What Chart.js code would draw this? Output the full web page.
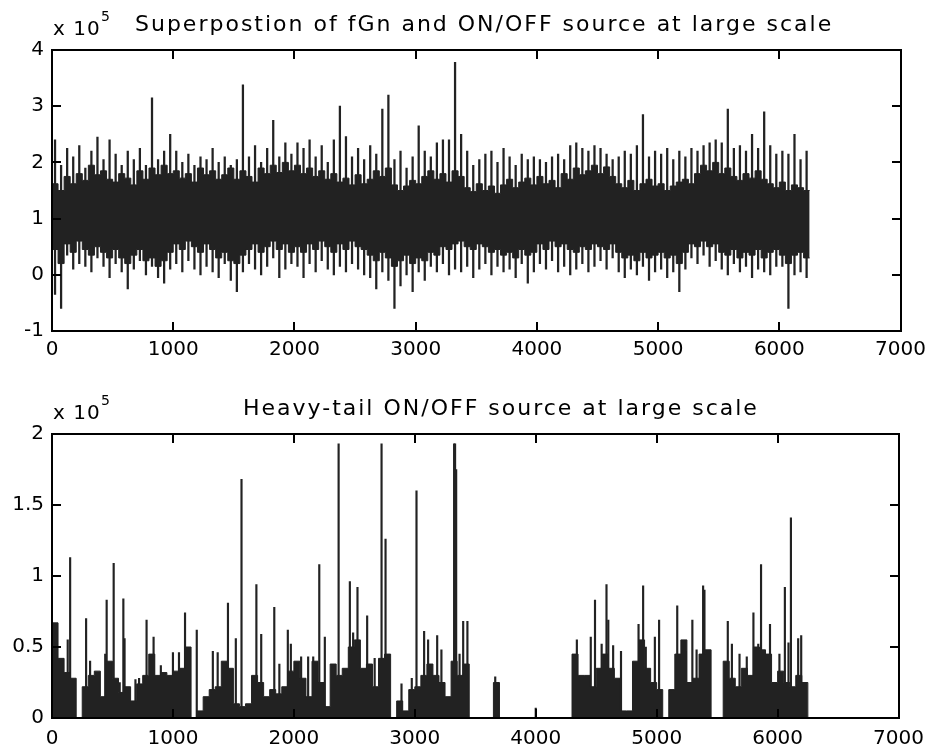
<!DOCTYPE html>
<html>
<head>
<meta charset="utf-8">
<script src="https://cdn.jsdelivr.net/npm/chart.js@4"></script>
<style>
  html, body { margin: 0; padding: 0; background: #fff; }
  #wrap { position: relative; width: 933px; height: 753px; }
  canvas { position: absolute; left: 0; }
  #top { top: 0; }
  #bottom { top: 375px; }
</style>
</head>
<body>
<div id="wrap">
  <canvas id="top" width="933" height="375"></canvas>
  <canvas id="bottom" width="933" height="378"></canvas>
</div>
<script>
// values are in units of 1e5 (the "x 10^5" on each axis)
const BIN = 50;   // samples per bin

// top panel: extreme max / min per bin
const topHi = [
  2.40, 1.95, 2.25, 2.10, 2.30, 1.90, 2.20, 2.45, 2.05, 2.40,
  2.15, 1.95, 2.20, 2.05, 2.25, 1.95, 3.15, 2.05, 2.20, 2.50,
  2.20, 2.00, 2.15, 1.95, 2.10, 2.05, 2.25, 2.00, 2.10, 1.95,
  2.05, 3.38, 2.10, 2.30, 2.00, 2.25, 2.75, 2.10, 2.35, 2.15,
  2.35, 2.25, 2.40, 2.10, 2.30, 2.00, 2.40, 3.00, 2.46, 2.10,
  2.25, 2.05, 2.30, 2.15, 2.95, 3.20, 2.05, 2.20, 1.90, 2.10,
  2.65, 2.20, 2.10, 2.35, 2.40, 2.40, 3.78, 2.50, 2.20, 1.95,
  2.05, 2.15, 2.20, 2.00, 2.25, 2.10, 1.95, 2.15, 2.05, 2.10,
  2.05, 2.00, 2.10, 2.15, 2.05, 2.30, 2.35, 2.25, 2.20, 2.30,
  2.25, 2.15, 2.05, 2.10, 2.20, 2.15, 2.30, 2.85, 2.10, 2.20,
  2.15, 2.25, 2.05, 2.20, 2.10, 2.25, 2.20, 2.30, 2.35, 2.40,
  2.35, 2.95, 2.25, 2.30, 2.20, 2.50, 2.25, 2.90, 2.30, 2.15,
  2.20, 2.15, 2.50, 2.05, 2.20
];
const topLo = [
  -0.35, -0.60, 0.35, 0.10, 0.20, 0.15, 0.05, 0.30, 0.15, -0.05,
  0.20, 0.05, -0.25, 0.10, 0.25, 0.00, 0.15, -0.05, -0.15, 0.10,
  0.20, 0.05, 0.25, 0.10, 0.00, 0.15, 0.05, -0.05, 0.20, -0.10,
  -0.30, 0.05, 0.20, 0.10, 0.00, 0.15, 0.30, -0.05, 0.10, 0.20,
  0.15, -0.05, 0.20, 0.05, 0.25, 0.10, 0.00, 0.15, 0.05, 0.20,
  0.10, 0.00, -0.05, -0.25, 0.05, -0.10, -0.60, -0.20, 0.00, -0.30,
  0.05, -0.10, 0.15, 0.05, 0.20, 0.00, 0.10, 0.05, 0.15, -0.05,
  0.10, 0.20, 0.00, 0.15, 0.05, 0.10, -0.05, 0.20, -0.15, 0.05,
  0.20, 0.10, 0.25, 0.05, 0.15, 0.00, 0.10, 0.20, 0.05, 0.15,
  0.25, 0.10, 0.30, 0.05, -0.05, 0.10, 0.00, 0.15, -0.10, 0.05,
  0.10, -0.05, 0.05, -0.30, 0.10, 0.30, 0.20, 0.35, 0.15, 0.25,
  0.10, 0.00, 0.20, 0.05, 0.15, -0.05, 0.10, 0.05, 0.00, 0.15,
  0.15, -0.60, 0.00, 0.05, -0.05
];
// top panel: edges of the solid black core per bin
const coreHi = [
  1.62, 1.50, 1.75, 1.62, 1.80, 1.68, 1.95, 1.78, 1.85, 1.70,
  1.65, 1.80, 1.72, 1.60, 1.85, 1.70, 1.90, 1.78, 1.95, 1.80,
  1.85, 1.72, 1.80, 1.65, 1.90, 1.78, 1.85, 1.70, 1.78, 1.90,
  1.70, 1.85, 1.75, 1.65, 1.90, 1.80, 1.95, 1.82, 2.00, 1.85,
  1.95, 1.80, 1.90, 1.75, 1.85, 1.70, 1.80, 1.65, 1.72, 1.60,
  1.78, 1.62, 1.70, 1.85, 1.75, 1.90, 1.60, 1.50, 1.58, 1.68,
  1.62, 1.75, 1.85, 1.70, 1.80, 1.65, 1.85, 1.75, 1.55, 1.48,
  1.62, 1.50, 1.58, 1.45, 1.60, 1.70, 1.55, 1.65, 1.72, 1.60,
  1.75, 1.62, 1.68, 1.55, 1.80, 1.70, 1.90, 1.78, 1.85, 1.95,
  1.80, 1.92, 1.75, 1.62, 1.55, 1.68, 1.50, 1.62, 1.70, 1.58,
  1.62, 1.50, 1.58, 1.65, 1.70, 1.62, 1.80, 1.95, 1.85, 2.00,
  1.80, 1.90, 1.75, 1.68, 1.80, 1.72, 1.85, 1.70, 1.62, 1.55,
  1.65, 1.50, 1.60, 1.55, 1.50
];
const coreLo = [
  0.45, 0.20, 0.55, 0.40, 0.60, 0.45, 0.35, 0.50, 0.40, 0.30,
  0.45, 0.30, 0.20, 0.35, 0.45, 0.25, 0.30, 0.15, 0.25, 0.40,
  0.55, 0.45, 0.60, 0.50, 0.40, 0.55, 0.45, 0.30, 0.40, 0.25,
  0.20, 0.35, 0.45, 0.55, 0.40, 0.50, 0.60, 0.45, 0.55, 0.40,
  0.50, 0.40, 0.55, 0.45, 0.60, 0.50, 0.40, 0.55, 0.45, 0.60,
  0.50, 0.45, 0.35, 0.25, 0.40, 0.30, 0.15, 0.25, 0.35, 0.20,
  0.30, 0.25, 0.40, 0.35, 0.50, 0.45, 0.55, 0.60, 0.50, 0.45,
  0.55, 0.50, 0.40, 0.45, 0.35, 0.40, 0.30, 0.45, 0.35, 0.40,
  0.55, 0.45, 0.60, 0.50, 0.55, 0.45, 0.40, 0.50, 0.45, 0.55,
  0.50, 0.45, 0.55, 0.40, 0.30, 0.35, 0.25, 0.40, 0.30, 0.35,
  0.40, 0.30, 0.35, 0.20, 0.40, 0.55, 0.50, 0.60, 0.50, 0.55,
  0.40, 0.35, 0.45, 0.30, 0.40, 0.35, 0.45, 0.30, 0.40, 0.45,
  0.35, 0.20, 0.35, 0.40, 0.30
];

// bottom panel: ON level per bin (0 = OFF) and single-sample spikes
const onLevel = [
  0.67, 0.42, 0.32, 0.28, 0.00, 0.22, 0.30, 0.33, 0.15, 0.40,
  0.28, 0.18, 0.22, 0.12, 0.24, 0.30, 0.45, 0.30, 0.32, 0.30,
  0.33, 0.35, 0.50, 0.00, 0.05, 0.15, 0.20, 0.22, 0.40, 0.35,
  0.10, 0.08, 0.10, 0.30, 0.25, 0.15, 0.20, 0.17, 0.22, 0.33,
  0.40, 0.28, 0.15, 0.40, 0.25, 0.08, 0.38, 0.30, 0.35, 0.50,
  0.55, 0.35, 0.38, 0.22, 0.42, 0.45, 0.00, 0.12, 0.05, 0.20,
  0.22, 0.30, 0.38, 0.30, 0.25, 0.15, 0.40, 0.30, 0.38, 0.00,
  0.00, 0.00, 0.00, 0.25, 0.00, 0.00, 0.00, 0.00, 0.00, 0.00,
  0.00, 0.00, 0.00, 0.00, 0.00, 0.00, 0.45, 0.30, 0.30, 0.22,
  0.35, 0.45, 0.35, 0.28, 0.05, 0.05, 0.40, 0.55, 0.35, 0.25,
  0.20, 0.00, 0.20, 0.45, 0.55, 0.25, 0.28, 0.45, 0.48, 0.00,
  0.00, 0.40, 0.28, 0.22, 0.35, 0.30, 0.50, 0.48, 0.45, 0.25,
  0.33, 0.25, 0.22, 0.30, 0.25
];
const spikeX = [
  130, 150, 282, 315, 440, 452, 510, 560, 590, 600,
  690, 720, 782, 840, 900, 1000, 1050, 1100, 1197, 1330,
  1370, 1455, 1520, 1567, 1690, 1730, 1838, 1880, 1950, 1975,
  2060, 2118, 2160, 2210, 2256, 2370, 2463, 2490, 2526, 2606,
  2668, 2725, 2758, 2890, 2975, 3014, 3077, 3110, 3185, 3220,
  3325, 3333, 3342, 3370, 3400, 3435, 3665, 4000, 4340, 4455,
  4490, 4545, 4585, 4600, 4640, 4705, 4850, 4888, 4910, 4985,
  5020, 5170, 5240, 5295, 5330, 5384, 5395, 5588, 5622, 5685,
  5745, 5800, 5840, 5863, 5937, 6015, 6060, 6090, 6110, 6170,
  6195
];
const spikeH = [
  0.55, 1.13, 0.70, 0.40, 0.45, 0.83, 1.09, 0.25, 0.84, 0.56,
  0.27, 0.28, 0.69, 0.57, 0.37, 0.46, 0.46, 0.74, 0.62, 0.47,
  0.46, 0.81, 0.56, 1.68, 0.94, 0.59, 0.78, 0.38, 0.62, 0.52,
  0.43, 0.43, 0.43, 1.08, 0.57, 1.93, 0.96, 0.60, 0.92, 0.72,
  0.42, 1.93, 1.26, 0.24, 0.28, 1.60, 0.61, 0.55, 0.58, 0.48,
  1.93, 1.93, 1.75, 0.45, 0.68, 0.68, 0.29, 0.07, 0.55, 0.57,
  0.83, 0.52, 0.94, 0.69, 0.51, 0.47, 0.66, 0.93, 0.50, 0.57,
  0.69, 0.79, 0.47, 0.69, 0.48, 0.93, 0.90, 0.68, 0.52, 0.45,
  0.43, 0.74, 0.52, 1.08, 0.66, 0.45, 0.92, 0.53, 1.41, 0.56,
  0.58
];

const xTicks = [0, 1000, 2000, 3000, 4000, 5000, 6000, 7000];
const topYTicks = [-1, 0, 1, 2, 3, 4];
const bottomYTicks = [0, 0.5, 1, 1.5, 2];

const INK = '#222';
const FONT = 'DejaVu Sans';
Chart.defaults.font.family = FONT;
Chart.defaults.color = '#000';

// MATLAB-like box with inward ticks on all four sides, plus title and exponent
const matlabFrame = {
  id: 'matlabFrame',
  afterDraw(chart, args, opts) {
    const { ctx, chartArea: a, scales } = chart;
    const L = Math.round(a.left), R = Math.round(a.right);
    const T = Math.round(a.top), B = Math.round(a.bottom);
    const tl = 9, w = 2;
    ctx.save();
    ctx.fillStyle = '#000';
    ctx.fillRect(L - 1, T - 1, R - L + w, w);
    ctx.fillRect(L - 1, B - 1, R - L + w, w);
    ctx.fillRect(L - 1, T - 1, w, B - T + w);
    ctx.fillRect(R - 1, T - 1, w, B - T + w);
    scales.x.ticks.forEach(t => {
      const px = Math.round(scales.x.getPixelForValue(t.value));
      ctx.fillRect(px - 1, B - tl, w, tl);
      ctx.fillRect(px - 1, T, w, tl);
    });
    scales.y.ticks.forEach(t => {
      const py = Math.round(scales.y.getPixelForValue(t.value));
      ctx.fillRect(L, py - 1, tl, w);
      ctx.fillRect(R - tl, py - 1, tl, w);
    });

    ctx.textBaseline = 'alphabetic';
    ctx.textAlign = 'left';
    ctx.font = `22px "${FONT}"`;
    ctx.letterSpacing = '2px';
    ctx.fillText(opts.title, opts.titleX, a.top - 19);
    ctx.font = `20px "${FONT}"`;
    ctx.letterSpacing = '1px';
    ctx.fillText('x 10', 53, a.top - 15);
    ctx.font = `14px "${FONT}"`;
    ctx.letterSpacing = '0px';
    ctx.fillText('5', 101, a.top - 29);
    ctx.restore();
  }
};

function xAxis(h, pad) {
  return {
    type: 'linear', min: 0, max: 7000, offset: false,
    afterBuildTicks: s => { s.ticks = xTicks.map(v => ({ value: v })); },
    afterFit: s => { s.height = h; },
    grid: { display: false, drawTicks: false },
    border: { display: false },
    ticks: { font: { size: 20 }, padding: pad, maxRotation: 0, autoSkip: false,
      callback: v => String(v) }
  };
}
function yAxis(min, max, ticks) {
  return {
    min, max,
    afterBuildTicks: s => { s.ticks = ticks.map(v => ({ value: v })); },
    afterFit: s => { s.width = 52; },
    grid: { display: false, drawTicks: false },
    border: { display: false },
    ticks: { font: { size: 20 }, padding: 8, callback: v => String(v) }
  };
}
const baseOpts = {
  responsive: false,
  animation: false,
  devicePixelRatio: 1,
  plugins: { legend: { display: false }, tooltip: { enabled: false } }
};

// top: superposition of fGn and ON/OFF source
const coreLoPts = coreLo.map((v, i) => ({ x: i * BIN, y: v }));
const coreHiPts = coreHi.map((v, i) => ({ x: i * BIN, y: v }));
coreLoPts.push({ x: coreLo.length * BIN, y: coreLo[coreLo.length - 1] });
coreHiPts.push({ x: coreHi.length * BIN, y: coreHi[coreHi.length - 1] });
new Chart(document.getElementById('top'), {
  type: 'line',
  data: {
    datasets: [
      { data: coreLoPts, stepped: true,
        borderColor: INK, borderWidth: 1, pointRadius: 0, fill: false },
      { data: coreHiPts, stepped: true,
        borderColor: INK, borderWidth: 1, pointRadius: 0, fill: '-1', backgroundColor: INK },
      { type: 'bar', data: topHi.map((v, i) => ({ x: i * BIN + BIN / 2, y: [topLo[i], v] })),
        backgroundColor: INK, borderWidth: 0, barThickness: 1.6 }
    ]
  },
  options: {
    ...baseOpts,
    layout: { padding: { top: 50, right: 30, bottom: 0, left: 0 } },
    scales: { x: xAxis(44, 7), y: yAxis(-1, 4, topYTicks) },
    plugins: { ...baseOpts.plugins,
      matlabFrame: { title: 'Superpostion of fGn and ON/OFF source at large scale', titleX: 135 } }
  },
  plugins: [matlabFrame]
});

// bottom: heavy-tail ON/OFF source
const levelPts = onLevel.map((v, i) => ({ x: i * BIN, y: v }));
levelPts.push({ x: onLevel.length * BIN, y: 0 });
new Chart(document.getElementById('bottom'), {
  type: 'line',
  data: {
    datasets: [
      { data: levelPts, stepped: true, fill: 'origin',
        borderColor: INK, backgroundColor: INK, borderWidth: 1, pointRadius: 0 },
      { type: 'bar', data: spikeX.map((x, i) => ({ x, y: spikeH[i] })),
        backgroundColor: INK, borderWidth: 0, barThickness: 1.5 }
    ]
  },
  options: {
    ...baseOpts,
    layout: { padding: { top: 59, right: 30, bottom: 0, left: 0 } },
    scales: { x: xAxis(35, 9), y: yAxis(0, 2, bottomYTicks) },
    plugins: { ...baseOpts.plugins,
      matlabFrame: { title: 'Heavy-tail ON/OFF source at large scale', titleX: 243 } }
  },
  plugins: [matlabFrame]
});
</script>
</body>
</html>
